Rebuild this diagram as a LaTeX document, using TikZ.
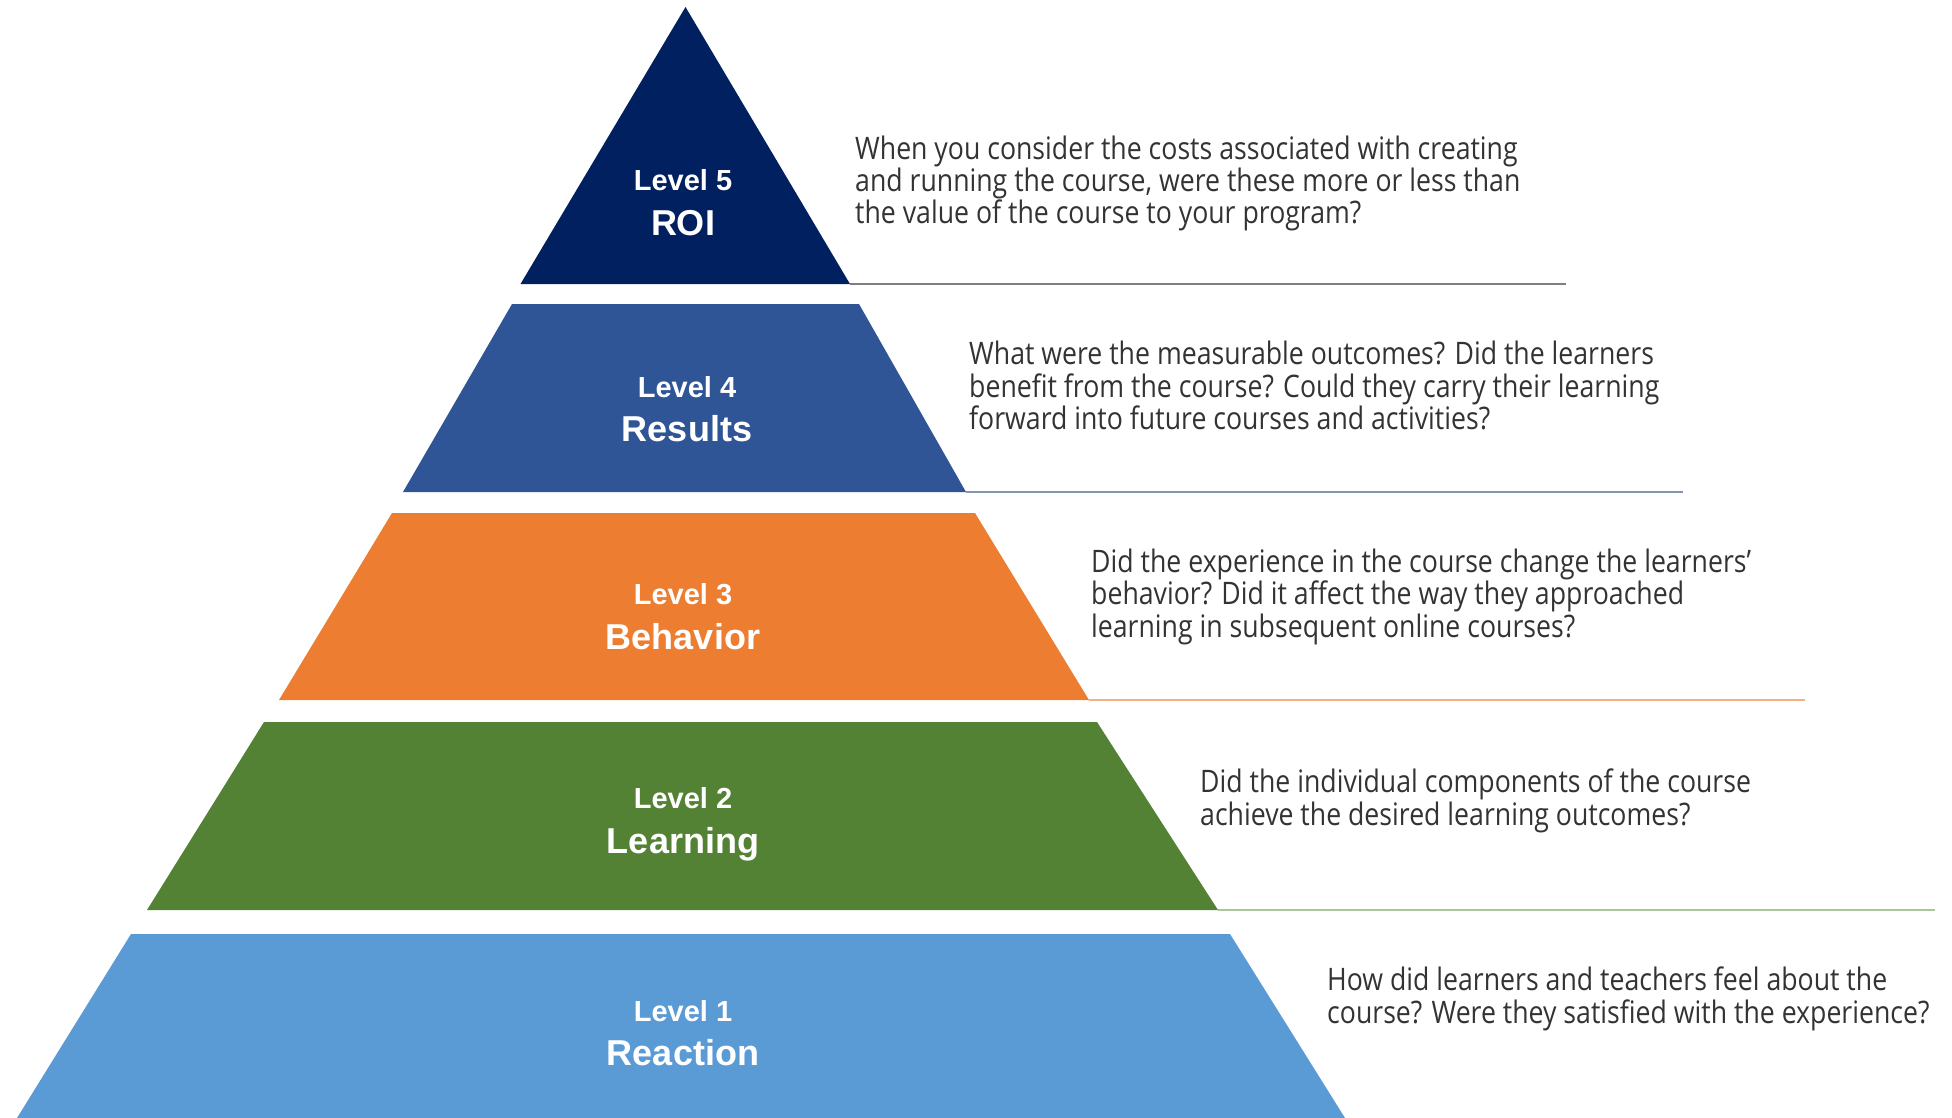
\documentclass[tikz,border=0pt]{standalone}
\usepackage{fontspec}
\setmainfont{Liberation Sans}
\newfontfamily\bodyfont[FakeStretch=0.86]{Open Sans}
\definecolor{cfive}{HTML}{002060}
\definecolor{cfour}{HTML}{2F5597}
\definecolor{cthree}{HTML}{ED7D31}
\definecolor{ctwo}{HTML}{548235}
\definecolor{cone}{HTML}{5B9BD5}
\definecolor{txtgray}{HTML}{333333}
\definecolor{lfive}{HTML}{7F7F7F}
\definecolor{lfour}{HTML}{8497B0}
\definecolor{lthree}{HTML}{F4B183}
\definecolor{ltwo}{HTML}{A9C79A}
\begin{document}
\begin{tikzpicture}[x=1pt,y=-1pt,
  lvl/.style={text=white,font=\bfseries\fontsize{29}{32}\selectfont,inner sep=0pt,anchor=base},
  lvlname/.style={text=white,font=\bfseries\fontsize{36}{40}\selectfont,inner sep=0pt,anchor=base},
  question/.style={text=txtgray,font=\bodyfont\fontsize{31}{32.4}\selectfont,align=left,inner sep=0pt,anchor=base west},
  rule/.style={line width=1.6pt}]
\useasboundingbox (0,0) rectangle (1952,1118);
% corner coordinates
\coordinate (a5) at (685.5,7);
\coordinate (bl5) at (520.5,284);
\coordinate (br5) at (850,284);
\coordinate (tl4) at (512,304);
\coordinate (tr4) at (859,304);
\coordinate (bl4) at (403,492);
\coordinate (br4) at (966,492);
\coordinate (tl3) at (392,513);
\coordinate (tr3) at (975,513);
\coordinate (bl3) at (279,700);
\coordinate (br3) at (1089,700);
\coordinate (tl2) at (264,722);
\coordinate (tr2) at (1097,722);
\coordinate (bl2) at (147,910);
\coordinate (br2) at (1218,910);
\coordinate (tl1) at (131,934);
\coordinate (tr1) at (1230,934);
\coordinate (bl1) at (17,1118);
\coordinate (br1) at (1345,1118);
% line ends
\coordinate (e5) at (1566,284);
\coordinate (e4) at (1683,492);
\coordinate (e3) at (1805,700);
\coordinate (e2) at (1935,910);
% shapes
\fill[cfive] (a5) -- (br5) -- (bl5) -- cycle;
\fill[cfour] (tl4) -- (tr4) -- (br4) -- (bl4) -- cycle;
\fill[cthree] (tl3) -- (tr3) -- (br3) -- (bl3) -- cycle;
\fill[ctwo] (tl2) -- (tr2) -- (br2) -- (bl2) -- cycle;
\fill[cone] (tl1) -- (tr1) -- (br1) -- (bl1) -- cycle;
% rules
\draw[rule,lfive] (br5) -- (e5);
\draw[rule,lfour] (br4) -- (e4);
\draw[rule,lthree] (br3) -- (e3);
\draw[rule,ltwo] (br2) -- (e2);
% labels
\node[lvl] (l5a) at (683,191) {Level 5};
\node[lvlname] (l5b) at (683,236) {ROI};
\node[lvl] (l4a) at (687,397) {Level 4};
\node[lvlname] (l4b) at (687,441) {Results};
\node[lvl] (l3a) at (683,604) {Level 3};
\node[lvlname] (l3b) at (683,649) {Behavior};
\node[lvl] (l2a) at (683,808) {Level 2};
\node[lvlname] (l2b) at (683,853) {Learning};
\node[lvl] (l1a) at (683,1021) {Level 1};
\node[lvlname] (l1b) at (683,1065) {Reaction};
% questions (anchor on last line's baseline)
\node[question] (q5) at (855,224) {When you consider the costs associated with creating\\and running the course, were these more or less than\\the value of the course to your program?};
\node[question] (q4) at (969,429.5) {What were the measurable outcomes? Did the learners\\benefit from the course? Could they carry their learning\\forward into future courses and activities?};
\node[question] (q3) at (1091,637) {Did the experience in the course change the learners’\\behavior? Did it affect the way they approached\\learning in subsequent online courses?};
\node[question] (q2) at (1200,825) {Did the individual components of the course\\achieve the desired learning outcomes?};
\node[question] (q1) at (1327,1023) {How did learners and teachers feel about the\\course? Were they satisfied with the experience?};
\end{tikzpicture}
\end{document}
